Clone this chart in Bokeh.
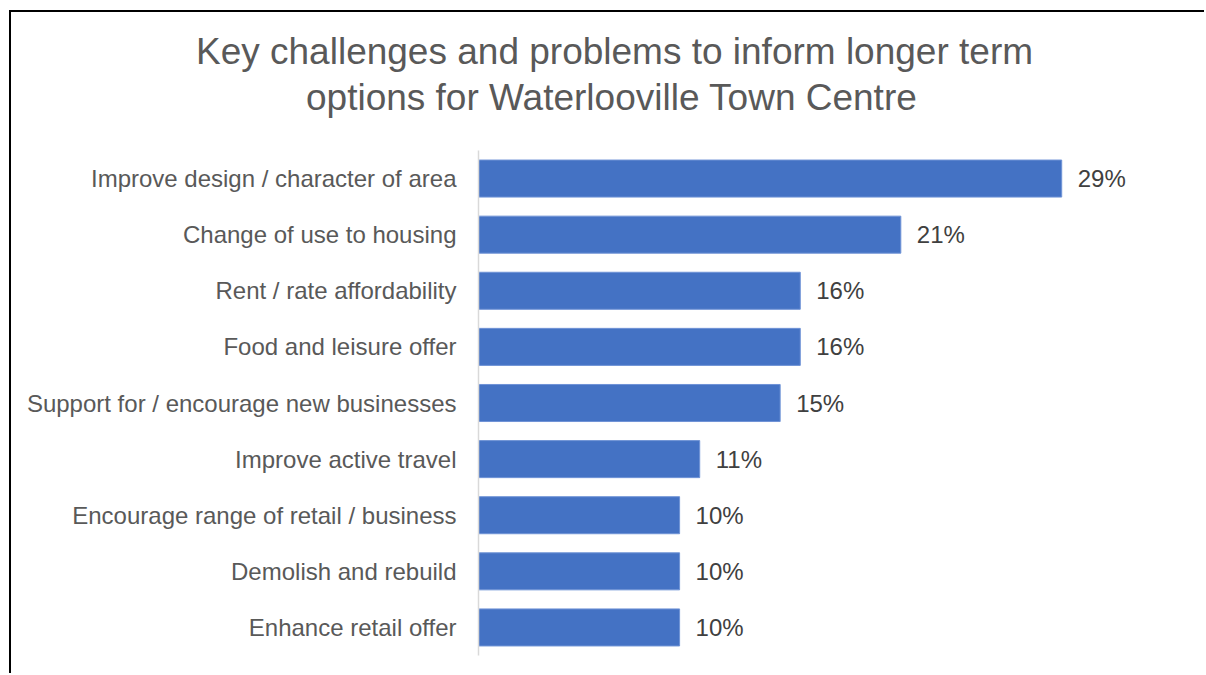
from bokeh.plotting import figure
from bokeh.models import ColumnDataSource, FactorRange, Range1d, Title
from bokeh.core.properties import value
from bokeh.embed import file_html
from bokeh.resources import INLINE

categories = [
    "Improve design / character of area",
    "Change of use to housing",
    "Rent / rate affordability",
    "Food and leisure offer",
    "Support for / encourage new businesses",
    "Improve active travel",
    "Encourage range of retail / business",
    "Demolish and rebuild",
    "Enhance retail offer",
]
values = [29, 21, 16, 16, 15, 11, 10, 10, 10]
value_labels = ["29%", "21%", "16%", "16%", "15%", "11%", "10%", "10%", "10%"]
title_lines = ["Key challenges and problems to inform longer term",
               "options for Waterlooville Town Centre"]

W, H = 1195, 663
FONT = "Liberation Sans"

src = ColumnDataSource(dict(cat=categories, val=values, lab=value_labels))

p = figure(width=W, height=H, output_backend="svg", toolbar_location=None,
           title=None,
           y_range=FactorRange(factors=categories[::-1], range_padding=0),
           x_range=Range1d(0, 36.2),
           min_border_left=467, min_border_right=0,
           min_border_top=138, min_border_bottom=20,
           styles={"margin-left": "9px", "margin-top": "10px",
                   "border-left": "2px solid black", "border-top": "2px solid black"})
p.outline_line_color = None
p.grid.visible = False
p.xaxis.visible = False

p.hbar(y="cat", right="val", left=0, height=0.66, source=src,
       fill_color="#4472C4", line_color="#6f93d6", line_width=1)

p.text(x="val", y="cat", text="lab", source=src, x_offset=16,
       text_baseline="middle", text_align="left",
       text_font=value(FONT), text_font_size="24px", text_color="#404040")

ax = p.yaxis[0]
ax.axis_line_color = "#d9d9d9"
ax.axis_line_width = 1.5
ax.major_tick_line_color = None
ax.minor_tick_line_color = None
ax.major_tick_out = 0
ax.major_label_standoff = 22
ax.major_label_text_font = FONT
ax.major_label_text_font_size = "24px"
ax.major_label_text_color = "#595959"

p.add_layout(Title(text=title_lines[1], align="left", offset=-172.5, standoff=65,
                   text_font=FONT, text_font_size="37px", text_font_style="normal",
                   text_color="#595959"), "above")
p.add_layout(Title(text=title_lines[0], align="left", offset=-282.5, standoff=-59,
                   text_font=FONT, text_font_size="37px", text_font_style="normal",
                   text_color="#595959"), "above")

open("out.html", "w").write(file_html(p, INLINE))
